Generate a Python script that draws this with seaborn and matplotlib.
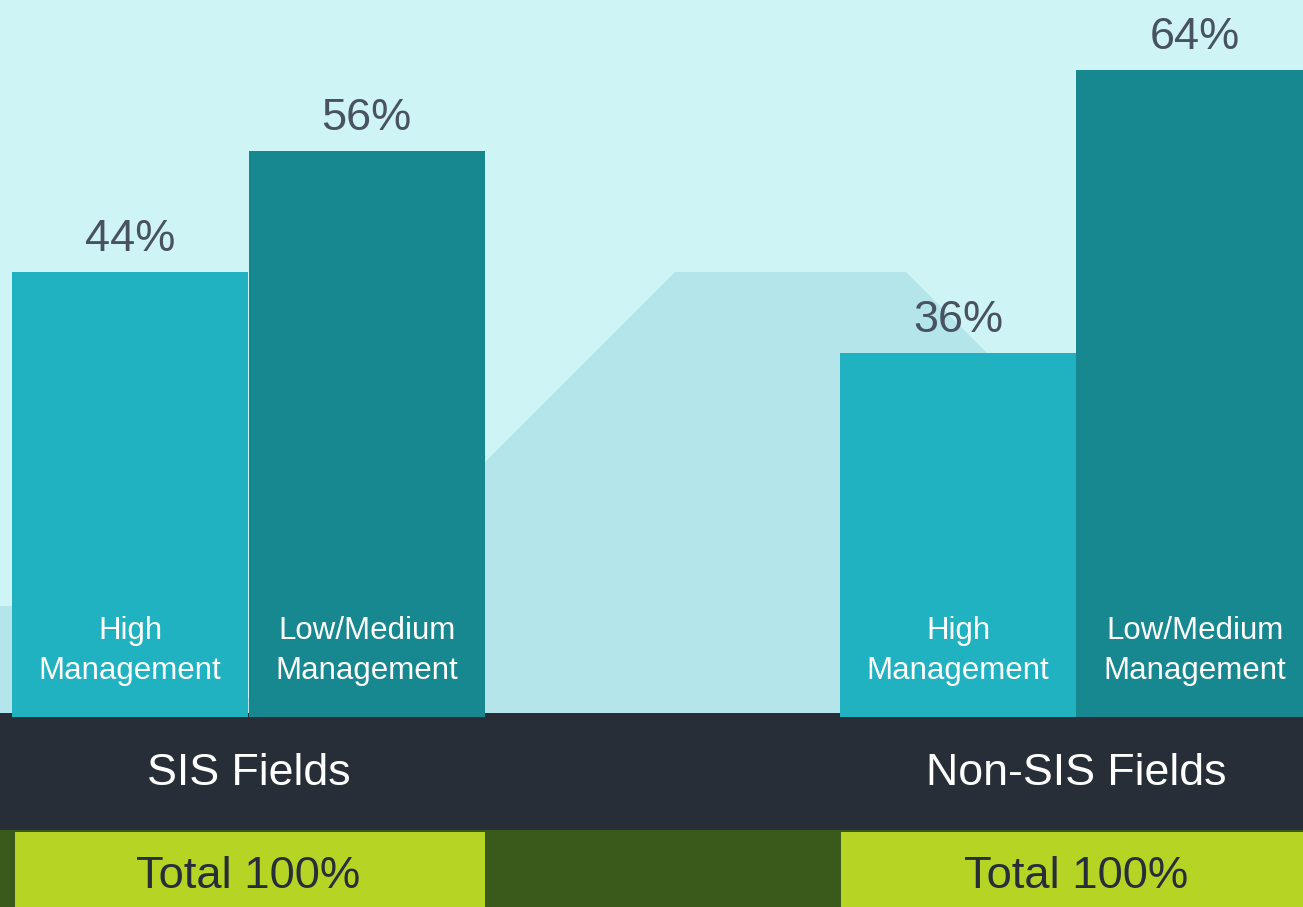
import numpy as np
import pandas as pd
import matplotlib
matplotlib.use("Agg")
import matplotlib.pyplot as plt
from matplotlib.patches import Polygon
import seaborn as sns

# Chart values
fields = ["SIS Fields", "Non-SIS Fields"]
levels = ["High\nManagement", "Low/Medium\nManagement"]
high_pct = [44, 36]
low_pct = [56, 64]
totals = ["Total 100%", "Total 100%"]

# Colours
BG = "#CFF4F6"
SHAPE = "#B3E5EA"
LIGHT_BAR = "#20B2C0"
DARK_BAR = "#17888F"
BAND = "#282E38"
GREEN = "#3A5A1C"
LIME = "#B5D423"
PCT_TXT = "#485260"

W, H = 1303, 907

sns.set_theme(style="white")
plt.rcParams["font.family"] = ["Liberation Sans", "DejaVu Sans"]

df = pd.DataFrame({
    "field": fields * 2,
    "level": [levels[0]] * 2 + [levels[1]] * 2,
    "pct": high_pct + low_pct,
})

fig = plt.figure(figsize=(W / 100, H / 100), dpi=100)
fig.patch.set_facecolor(BG)
ax = fig.add_axes([0, 0, 1, 1])


def fr(x, y):
    # pixel position -> axes fraction
    return (x / W, 1 - y / H)


def poly(points, color, z):
    ax.add_patch(Polygon([fr(x, y) for x, y in points], closed=True,
                         transform=ax.transAxes, facecolor=color,
                         edgecolor="none", zorder=z))


# background shapes and bands
poly([(234, 713), (675, 272), (906, 272), (1347, 713)], SHAPE, 0.1)
poly([(0, 606), (120, 606), (120, 713), (0, 713)], SHAPE, 0.1)
poly([(0, 713), (W, 713), (W, 830), (0, 830)], BAND, 0.3)
poly([(0, 830), (W, 830), (W, H), (0, H)], GREEN, 0.3)
poly([(15, 832), (485, 832), (485, H), (15, H)], LIME, 0.4)
poly([(841, 832), (W, 832), (W, H), (841, H)], LIME, 0.4)

sns.barplot(data=df, x="field", y="pct", hue="level", order=fields,
            hue_order=levels, palette=[LIGHT_BAR, DARK_BAR], saturation=1,
            width=0.5713, dodge=True, linewidth=0, legend=False, ax=ax,
            zorder=2)

base_px, scale = 716.5, 10.1
ax.set_ylim(-(H - base_px) / scale, base_px / scale)
ax.set_xlim(-248.5 / 828, (W - 248.5) / 828)
ax.axis("off")

# labels on bars
for cont, lvl in zip(ax.containers, levels):
    for bar in cont:
        cx = bar.get_x() + bar.get_width() / 2
        top = bar.get_height()
        ax.annotate(f"{top:.0f}%", (cx, top), xytext=(0, 15),
                    textcoords="offset points", ha="center", va="baseline",
                    fontsize=32.5, color=PCT_TXT, zorder=5)
        ax.text(cx, 3.7, lvl, ha="center", va="baseline", fontsize=22.5,
                color="white", linespacing=1.44, zorder=5)

xt = ax.get_xaxis_transform()
for i, (name, tot) in enumerate(zip(fields, totals)):
    ax.text(i, 1 - 785 / H, name, transform=xt, ha="center", va="baseline",
            fontsize=32.2, color="white", zorder=5)
    ax.text(i, 1 - 888 / H, tot, transform=xt, ha="center", va="baseline",
            fontsize=32.7, color=BAND, zorder=5)

fig.savefig("out.png", dpi=100, facecolor=BG)
